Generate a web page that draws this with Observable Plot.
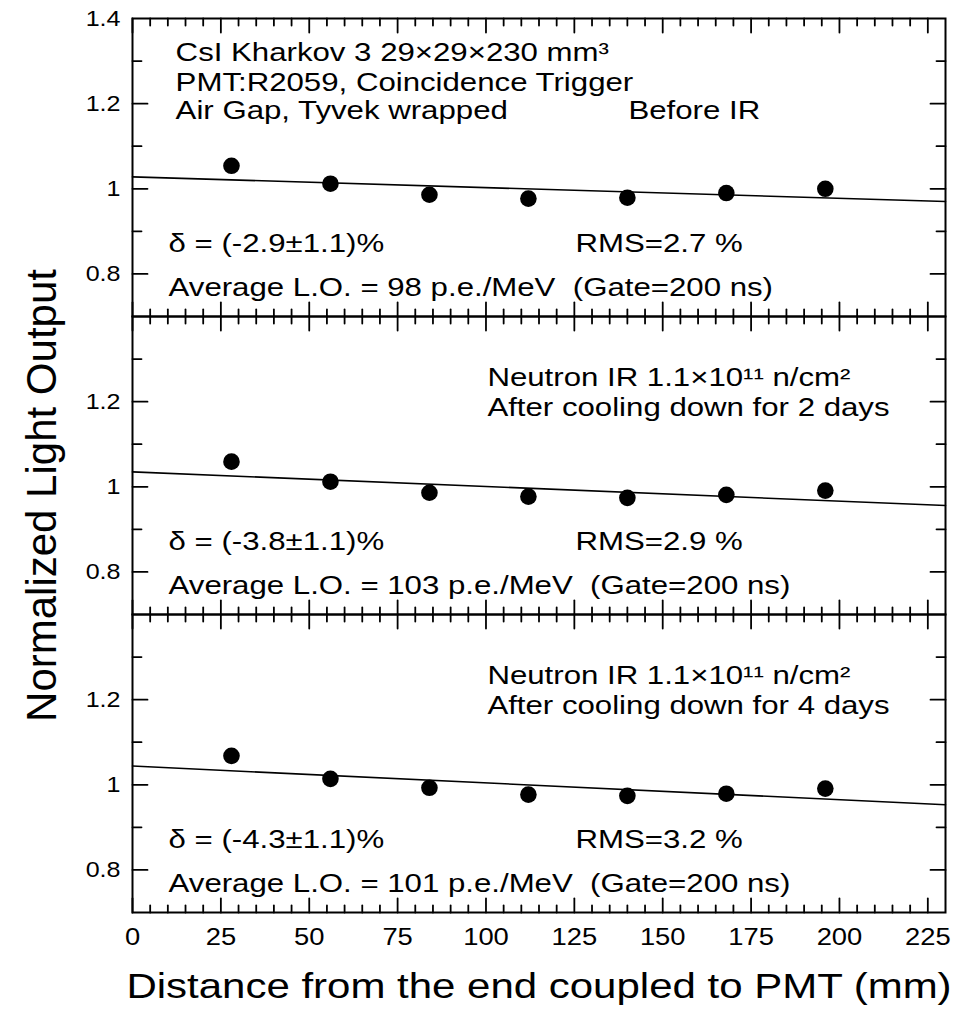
<!DOCTYPE html>
<html>
<head>
<meta charset="utf-8">
<script src="https://cdn.jsdelivr.net/npm/d3@7"></script>
<script src="https://cdn.jsdelivr.net/npm/@observablehq/plot@0.6"></script>
<style>
  body { margin: 0; background: #fff; }
  #chart svg { display: block; }
</style>
</head>
<body>
<div id="chart"></div>
<script>
// ---------- data ----------
const panels = ["before", "cool2", "cool4"];
const distances = [28, 56, 84, 112, 140, 168, 196];
const lightBefore = [1.054, 1.012, 0.986, 0.977, 0.979, 0.990, 1.000];
const lightCool2  = [1.059, 1.012, 0.986, 0.977, 0.974, 0.981, 0.991];
const lightCool4  = [1.068, 1.014, 0.993, 0.977, 0.974, 0.979, 0.991];
const fitX = [0, 230];
const fitStart = [1.028, 1.035, 1.044];
const fitEnd   = [0.970, 0.956, 0.953];

const xMajorTicks = [0, 25, 50, 75, 100, 125, 150, 175, 200, 225];
const xMinorTicks = d3.range(0, 230, 5).filter(v => v % 25 !== 0);
const yMajorTicks = [0.8, 1, 1.2];
const yMinorTicks = [0.9, 1.1, 1.3];
const yTopOnlyTicks = [1.4];

const headerLines = ["CsI Kharkov 3 29×29×230 mm³", "PMT:R2059, Coincidence Trigger", "Air Gap, Tyvek wrapped"];
const beforeLabel = "Before IR";
const conditionLines = [
  ["Neutron IR 1.1×10¹¹ n/cm²", "After cooling down for 2 days"],
  ["Neutron IR 1.1×10¹¹ n/cm²", "After cooling down for 4 days"]
];
const deltaTexts = ["δ = (-2.9±1.1)%", "δ = (-3.8±1.1)%", "δ = (-4.3±1.1)%"];
const rmsTexts = ["RMS=2.7 %", "RMS=2.9 %", "RMS=3.2 %"];
const avgTexts = [
  "Average L.O. = 98 p.e./MeV\u00a0\u00a0(Gate=200 ns)",
  "Average L.O. = 103 p.e./MeV\u00a0\u00a0(Gate=200 ns)",
  "Average L.O. = 101 p.e./MeV\u00a0\u00a0(Gate=200 ns)"
];
const xTitle = "Distance from the end coupled to PMT (mm)";
const yTitle = "Normalized Light Output";

// ---------- tables ----------
const series = [lightBefore, lightCool2, lightCool4];
const points = panels.flatMap((p, i) => distances.map((d, j) => ({panel: p, x: d, y: series[i][j]})));
const fits = panels.flatMap((p, i) => [
  {panel: p, x: fitX[0], y: fitStart[i]},
  {panel: p, x: fitX[1], y: fitEnd[i]}
]);
const tickRows = (values) => panels.flatMap(p => values.map(v => ({panel: p, v})));

// ---------- layout ----------
const W = 970, H = 1009, mL = 132, mR = 25, mT = 17, mB = 96;

const font = "Liberation Sans, Arial, Helvetica, sans-serif";
const annot = {textAnchor: "start", lineAnchor: "bottom", fontSize: 26, fill: "black"};

// inward tick shapes for vector marks anchored on the frame edges
const tickShapeUp = {draw(ctx, l) { ctx.moveTo(0, 0); ctx.lineTo(0, -l); }};
const tickShapeDown = {draw(ctx, l) { ctx.moveTo(0, 0); ctx.lineTo(0, l); }};
const tickShapeRight = {draw(ctx, l) { ctx.moveTo(0, 0); ctx.lineTo(l, 0); }};
const tickShapeLeft = {draw(ctx, l) { ctx.moveTo(0, 0); ctx.lineTo(-l, 0); }};
const vt = {stroke: "black", strokeWidth: 1.8, anchor: "start", fy: "panel"};

const chart = Plot.plot({
  width: W,
  height: H,
  marginLeft: mL,
  marginRight: mR,
  marginTop: mT,
  marginBottom: mB,
  style: {fontFamily: font, color: "black", background: "white", overflow: "visible"},
  x: {domain: [0, 230], axis: null},
  y: {domain: [0.7, 1.4], axis: null},
  fy: {domain: panels, axis: null, padding: 0},
  marks: [
    Plot.frame({stroke: "black", strokeWidth: 2, fill: "none"}),
    // inward ticks on all four sides of every panel
    Plot.vector(tickRows(xMajorTicks), {...vt, x: "v", frameAnchor: "bottom", length: 14, shape: tickShapeUp}),
    Plot.vector(tickRows(xMajorTicks), {...vt, x: "v", frameAnchor: "top", length: 14, shape: tickShapeDown}),
    Plot.vector(tickRows(xMinorTicks), {...vt, x: "v", frameAnchor: "bottom", length: 7, shape: tickShapeUp}),
    Plot.vector(tickRows(xMinorTicks), {...vt, x: "v", frameAnchor: "top", length: 7, shape: tickShapeDown}),
    Plot.vector(tickRows(yMajorTicks), {...vt, y: "v", frameAnchor: "left", length: 15, shape: tickShapeRight}),
    Plot.vector(tickRows(yMajorTicks), {...vt, y: "v", frameAnchor: "right", length: 15, shape: tickShapeLeft}),
    Plot.vector(tickRows(yMinorTicks), {...vt, y: "v", frameAnchor: "left", length: 9, shape: tickShapeRight}),
    Plot.vector(tickRows(yMinorTicks), {...vt, y: "v", frameAnchor: "right", length: 9, shape: tickShapeLeft}),
    // tick labels
    Plot.axisX(xMajorTicks, {anchor: "bottom", tickSize: 0, tickPadding: 15, fontSize: 24, label: null, fill: "black", tickFormat: d => `${d}`}),
    Plot.axisY(yMajorTicks, {anchor: "left", facetAnchor: null, tickSize: 0, tickPadding: 12, fontSize: 22, label: null, fill: "black", tickFormat: d => `${d}`}),
    Plot.axisY(yTopOnlyTicks, {anchor: "left", facetAnchor: "top", tickSize: 0, tickPadding: 12, fontSize: 22, label: null, fill: "black", tickFormat: d => `${d}`}),
    // fit lines and data
    Plot.line(fits, {x: "x", y: "y", fy: "panel", z: "panel", stroke: "black", strokeWidth: 1.6}),
    Plot.dot(points, {x: "x", y: "y", fy: "panel", r: 8.3, fill: "black", stroke: null}),
    // annotations
    Plot.text(headerLines, {...annot, x: 12.2, y: [1.299, 1.229, 1.163], fy: headerLines.map(() => panels[0])}),
    Plot.text([beforeLabel], {...annot, x: 140.3, y: 1.163, fy: [panels[0]]}),
    Plot.text(conditionLines.flat(), {...annot, x: 100.4, y: [1.237, 1.167, 1.237, 1.167], fy: [panels[1], panels[1], panels[2], panels[2]]}),
    Plot.text(deltaTexts, {...annot, x: 10.2, y: 0.851, fy: panels}),
    Plot.text(rmsTexts, {...annot, x: 125.3, y: 0.851, fy: panels}),
    Plot.text(avgTexts, {...annot, x: 10.2, y: 0.749, fy: panels}),
    // titles
    Plot.text([xTitle], {facet: "super", frameAnchor: "bottom", dy: 85, lineAnchor: "bottom", textAnchor: "middle", fontSize: 35, fill: "black"}),
    Plot.text([yTitle], {facet: "super", frameAnchor: "left", rotate: -90, dx: -77, dy: 30, lineAnchor: "bottom", textAnchor: "middle", fontSize: 42, fill: "black"})
  ]
});

// widen horizontal texts to match the reference's glyph proportions
d3.select(chart).selectAll("text").each(function() {
  const t = this.getAttribute("transform");
  if (t && t.includes("rotate")) return;
  const g = this.closest("g[aria-label]");
  const isTick = g && /tick label/.test(g.getAttribute("aria-label"));
  const sx = isTick ? 1.14 : 1.2;
  if (t) this.setAttribute("transform", `${t} scale(${sx},1)`);
  else {
    const x = +this.getAttribute("x") || 0, y = +this.getAttribute("y") || 0;
    this.setAttribute("transform", `translate(${x},${y}) scale(${sx},1) translate(${-x},${-y})`);
  }
});

document.getElementById("chart").appendChild(chart);
</script>
</body>
</html>
